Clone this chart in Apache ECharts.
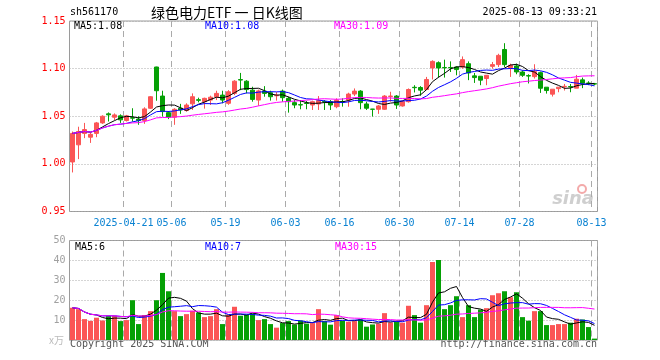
<!DOCTYPE html>
<html><head><meta charset="utf-8">
<script src="https://cdn.jsdelivr.net/npm/echarts@6/dist/echarts.min.js"></script>
<style>html,body{margin:0;padding:0;background:#fff}#c{width:660px;height:360px}</style>
</head><body><div id="c"></div>
<script>
const dates = [
'2025-04-08','2025-04-09','2025-04-10','2025-04-11','2025-04-14','2025-04-15','2025-04-16','2025-04-17','2025-04-18','2025-04-21','2025-04-22','2025-04-23','2025-04-24','2025-04-25','2025-04-28','2025-04-29','2025-04-30',
'2025-05-06','2025-05-07','2025-05-08','2025-05-09','2025-05-12','2025-05-13','2025-05-14','2025-05-15','2025-05-16','2025-05-19','2025-05-20','2025-05-21','2025-05-22','2025-05-23','2025-05-26','2025-05-27','2025-05-28','2025-05-29','2025-05-30',
'2025-06-03','2025-06-04','2025-06-05','2025-06-06','2025-06-09','2025-06-10','2025-06-11','2025-06-12','2025-06-13','2025-06-16','2025-06-17','2025-06-18','2025-06-19','2025-06-20','2025-06-23','2025-06-24','2025-06-25','2025-06-26','2025-06-27','2025-06-30',
'2025-07-01','2025-07-02','2025-07-03','2025-07-04','2025-07-07','2025-07-08','2025-07-09','2025-07-10','2025-07-11','2025-07-14','2025-07-15','2025-07-16','2025-07-17','2025-07-18','2025-07-21','2025-07-22','2025-07-23','2025-07-24','2025-07-25','2025-07-28','2025-07-29','2025-07-30','2025-07-31',
'2025-08-01','2025-08-04','2025-08-05','2025-08-06','2025-08-07','2025-08-08','2025-08-11','2025-08-12','2025-08-13'];

const opens = [1.002,1.020,1.032,1.028,1.032,1.043,1.0525,1.049,1.0504,1.0455,
1.0485,1.047,1.0455,1.0584,1.1017,1.0712,1.0538,1.049,1.0584,1.056,
1.063,1.0674,1.0653,1.067,1.0705,1.0722,1.0636,1.074,1.0885,1.0868,
1.0774,1.067,1.0764,1.0747,1.0715,1.0764,1.0688,1.0643,1.0622,1.0638,
1.0618,1.0629,1.0655,1.0653,1.060,1.0655,1.067,1.0733,1.0764,1.0629,
1.0575,1.0573,1.0573,1.0708,1.0712,1.0608,1.0653,1.0804,1.0802,1.0781,
1.1007,1.1062,1.1012,1.1012,1.1017,1.1017,1.1052,1.0924,1.092,1.0896,
1.1024,1.1042,1.1201,1.101,1.1028,1.0965,1.0927,1.0916,1.0958,1.0805,
1.0732,1.079,1.081,1.0812,1.0795,1.0882,1.0849,1.0842];

const closes = [1.032,1.034,1.036,1.031,1.043,1.050,1.0515,1.0514,1.0462,1.0504,
1.048,1.0455,1.0577,1.0705,1.0768,1.0549,1.049,1.0573,1.0566,1.0618,
1.0705,1.0667,1.0688,1.070,1.074,1.067,1.0757,1.0868,1.088,1.078,
1.0677,1.0766,1.074,1.0705,1.072,1.0695,1.0653,1.0618,1.0618,1.0634,
1.0653,1.0664,1.0651,1.0618,1.067,1.0651,1.0733,1.0764,1.0643,1.0584,
1.0573,1.0608,1.0712,1.0712,1.0618,1.0653,1.0781,1.080,1.0774,1.0886,
1.1076,1.1007,1.1008,1.1008,1.099,1.1094,1.0955,1.0906,1.0879,1.093,
1.1042,1.1139,1.1042,1.1035,1.0965,1.093,1.0922,1.0969,1.0794,1.077,
1.0784,1.0805,1.0814,1.0808,1.0889,1.0847,1.0845,1.0838];

const lows = [0.991,1.005,1.027,1.022,1.028,1.042,1.0445,1.046,1.043,1.0445,
1.0445,1.041,1.042,1.0577,1.0663,1.0497,1.047,1.041,1.0525,1.0549,
1.0566,1.0646,1.058,1.0618,1.067,1.0636,1.062,1.0722,1.0774,1.074,
1.0653,1.061,1.0705,1.0664,1.0664,1.0653,1.0538,1.0584,1.0573,1.0573,
1.0566,1.0566,1.0566,1.0566,1.0584,1.0601,1.060,1.0712,1.0573,1.0566,
1.0497,1.0525,1.0566,1.0653,1.0577,1.0601,1.0643,1.075,1.0716,1.0774,
1.0886,1.0906,1.0906,1.0965,1.093,1.100,1.0879,1.085,1.0826,1.0826,
1.100,1.1017,1.1017,1.0913,1.0941,1.0913,1.0844,1.0896,1.0745,1.0738,
1.0707,1.0752,1.077,1.0752,1.0795,1.0795,1.0826,1.0826];

const highs = [1.034,1.039,1.043,1.033,1.044,1.051,1.054,1.053,1.052,1.0514,
1.0584,1.050,1.0594,1.0712,1.102,1.0768,1.0555,1.0584,1.063,1.0636,
1.074,1.0695,1.0695,1.0716,1.0768,1.0768,1.0774,1.0879,1.0955,1.0879,
1.081,1.078,1.0816,1.0768,1.0753,1.078,1.0705,1.067,1.067,1.066,
1.0664,1.0712,1.067,1.067,1.0688,1.0688,1.0747,1.0792,1.0774,1.0653,
1.0577,1.0618,1.0722,1.0757,1.0722,1.0664,1.0792,1.0826,1.0816,1.0913,
1.1087,1.1076,1.1094,1.1076,1.1024,1.1128,1.1076,1.0955,1.092,1.093,
1.107,1.1156,1.1267,1.1052,1.1052,1.0982,1.0941,1.1046,1.0969,1.0805,
1.0784,1.0805,1.0839,1.0839,1.0934,1.0906,1.0868,1.0849];

const volumes = [16.2,15.5,10.5,9.6,11.2,9.8,12.2,12.2,9.5,10,
20,8,12.5,14.5,20,33.7,24.5,14.5,12,13,
14.7,13.8,11.5,12,15.5,8,12.8,16.7,12.2,12.8,
13.3,10,10.5,8,6.2,8.5,9.5,7.8,9.8,8.2,
8.5,15.5,9.5,7.7,12.5,9.7,9.2,9.5,10.3,6.7,
7.8,8.2,13.5,8.8,9.2,8.7,17.2,12.5,8.7,17.5,
39.2,40.2,15.5,17.5,22,11.5,17.5,11.5,15.3,16,
22.5,23.5,24.5,21.5,24,11.5,9.7,14.5,14.5,7.5,
7.5,8,8,8.7,10.7,10.3,6.5,0.7];

const tickDates = ['2025-04-21','2025-05-06','2025-05-19','2025-06-03','2025-06-16','2025-06-30','2025-07-14','2025-07-28','2025-08-13'];
const tickLabels = ['2025-04-21','05-06','05-19','06-03','06-16','06-30','07-14','07-28','08-13'];
const priceTicks = [0.95,1.00,1.05,1.10,1.15];
const volTicks = [0,10,20,30,40,50];
const priceMALabels = ['MA5:1.08','MA10:1.08','MA30:1.09'];
const volMALabels = ['MA5:6','MA10:7','MA30:15'];

const UP = '#fb5555', DOWN = '#05a005';
const MONO = '"DejaVu Sans Mono", monospace';

function ma(arr, n) {
  return arr.map((_, i) => {
    const s = Math.max(0, i - n + 1);
    let sum = 0;
    for (let k = s; k <= i; k++) sum += arr[k];
    return +(sum / (i - s + 1)).toFixed(4);
  });
}

const kData = dates.map((d, i) => [opens[i], closes[i], lows[i], highs[i]]);
const volData = volumes.map((v, i) => ({ value: v, itemStyle: { color: closes[i] >= opens[i] ? UP : DOWN } }));
const tickIdx = tickDates.map(d => dates.indexOf(d));

const chart = echarts.init(document.getElementById('c'), null, { renderer: 'canvas' });

const xBase = (gi, showLabel) => ({
  type: 'category', data: dates, gridIndex: gi, boundaryGap: true,
  axisLine: { show: false }, axisTick: { show: false },
  splitLine: { show: true, interval: (i) => tickIdx.includes(i), lineStyle: { color: '#aaaaaa', type: [6, 4], width: 1 } },
  axisLabel: {
    show: showLabel, interval: (i) => tickIdx.includes(i),
    formatter: (v) => { const k = tickDates.indexOf(v); return k >= 0 ? tickLabels[k] : ''; },
    color: '#0a82d2', fontFamily: MONO, fontSize: 10, margin: 7, padding: [0, 6, 0, 0]
  }
});

const lineS = (name, data, color, xi, yi) => ({
  name, type: 'line', data, xAxisIndex: xi, yAxisIndex: yi, symbol: 'none', showSymbol: false,
  lineStyle: { color, width: 1 }, silent: true, z: 5
});

chart.setOption({
  animation: false,
  backgroundColor: '#fff',
  grid: [
    { left: 69.5, top: 21, width: 528, height: 190.5, show: true, borderColor: '#9a9a9a', borderWidth: 1 },
    { left: 69.5, top: 240.5, width: 528, height: 99.5, show: true, borderColor: '#9a9a9a', borderWidth: 1 }
  ],
  xAxis: [xBase(0, true), xBase(1, false)],
  yAxis: [
    { type: 'value', gridIndex: 0, min: priceTicks[0], max: priceTicks[priceTicks.length - 1], interval: 0.05,
      axisLine: { show: false }, axisTick: { show: false },
      splitLine: { lineStyle: { color: '#aaaaaa', type: [1, 2] } },
      axisLabel: { formatter: (v) => v.toFixed(2), color: '#ff0000', fontFamily: MONO, fontSize: 10, margin: 4 } },
    { type: 'value', gridIndex: 1, min: volTicks[0], max: volTicks[volTicks.length - 1], interval: 10,
      axisLine: { show: false }, axisTick: { show: false },
      splitLine: { lineStyle: { color: '#aaaaaa', type: [1, 2] } },
      axisLabel: { formatter: (v) => v === 0 ? '' : String(v), color: '#a0a0a0', fontFamily: MONO, fontSize: 10, margin: 4 } }
  ],
  series: [
    { type: 'candlestick', data: kData, xAxisIndex: 0, yAxisIndex: 0, barWidth: 5,
      itemStyle: { color: UP, color0: DOWN, borderColor: UP, borderColor0: DOWN, borderWidth: 1 } },
    lineS('MA5', ma(closes, 5), '#000000', 0, 0),
    lineS('MA10', ma(closes, 10), '#0000ff', 0, 0),
    lineS('MA30', ma(closes, 30), '#ff00ff', 0, 0),
    { type: 'bar', data: volData, xAxisIndex: 1, yAxisIndex: 1, barWidth: 5 },
    lineS('VMA5', ma(volumes, 5), '#000000', 1, 1),
    lineS('VMA10', ma(volumes, 10), '#0000ff', 1, 1),
    lineS('VMA30', ma(volumes, 30), '#ff00ff', 1, 1)
  ],
  graphic: [
    { type: 'text', x: 70, y: 12, style: { text: 'sh561170', font: '10px ' + MONO, fill: '#000', textVerticalAlign: 'middle', verticalAlign: 'middle' } },
    { type: 'text', x: 151, y: 13, style: { text: '绿色电力ETF 一 日K线图', font: '14px "Noto Sans CJK SC"', fill: '#000', textVerticalAlign: 'middle', verticalAlign: 'middle' } },
    { type: 'text', x: 597, y: 12, style: { text: '2025-08-13 09:33:21', font: '10px ' + MONO, fill: '#000', textAlign: 'right', align: 'right', textVerticalAlign: 'middle', verticalAlign: 'middle' } },
    { type: 'text', x: 74, y: 26, z: 10, style: { text: priceMALabels[0], font: '10px ' + MONO, fill: '#000', textVerticalAlign: 'middle', verticalAlign: 'middle' } },
    { type: 'text', x: 205, y: 26, z: 10, style: { text: priceMALabels[1], font: '10px ' + MONO, fill: '#0000ff', textVerticalAlign: 'middle', verticalAlign: 'middle' } },
    { type: 'text', x: 334, y: 26, z: 10, style: { text: priceMALabels[2], font: '10px ' + MONO, fill: '#ff00ff', textVerticalAlign: 'middle', verticalAlign: 'middle' } },
    { type: 'text', x: 75, y: 247, z: 10, style: { text: volMALabels[0], font: '10px ' + MONO, fill: '#000', textVerticalAlign: 'middle', verticalAlign: 'middle' } },
    { type: 'text', x: 205, y: 247, z: 10, style: { text: volMALabels[1], font: '10px ' + MONO, fill: '#0000ff', textVerticalAlign: 'middle', verticalAlign: 'middle' } },
    { type: 'text', x: 335, y: 247, z: 10, style: { text: volMALabels[2], font: '10px ' + MONO, fill: '#ff00ff', textVerticalAlign: 'middle', verticalAlign: 'middle' } },
    { type: 'text', x: 64, y: 340, style: { text: 'x万', font: '10px "Noto Sans CJK SC"', fill: '#bbbbbb', textAlign: 'right', align: 'right', textVerticalAlign: 'middle', verticalAlign: 'middle' } },
    { type: 'text', x: 70, y: 344, style: { text: 'Copyright 2025 SINA.COM', font: '10px ' + MONO, fill: '#555', textVerticalAlign: 'middle', verticalAlign: 'middle' } },
    { type: 'text', x: 597, y: 344, style: { text: 'http://finance.sina.com.cn', font: '10px ' + MONO, fill: '#555', textAlign: 'right', align: 'right', textVerticalAlign: 'middle', verticalAlign: 'middle' } },
    { type: 'circle', shape: { cx: 582, cy: 189, r: 4 }, style: { fill: 'none', stroke: '#f3aaaa', lineWidth: 2 } },
    { type: 'text', x: 594, y: 199, style: { text: 'sina', font: 'italic bold 18px "DejaVu Sans"', fill: '#cfcfcf', textAlign: 'right', align: 'right', textVerticalAlign: 'middle', verticalAlign: 'middle' } }
  ]
});
</script>
</body></html>
